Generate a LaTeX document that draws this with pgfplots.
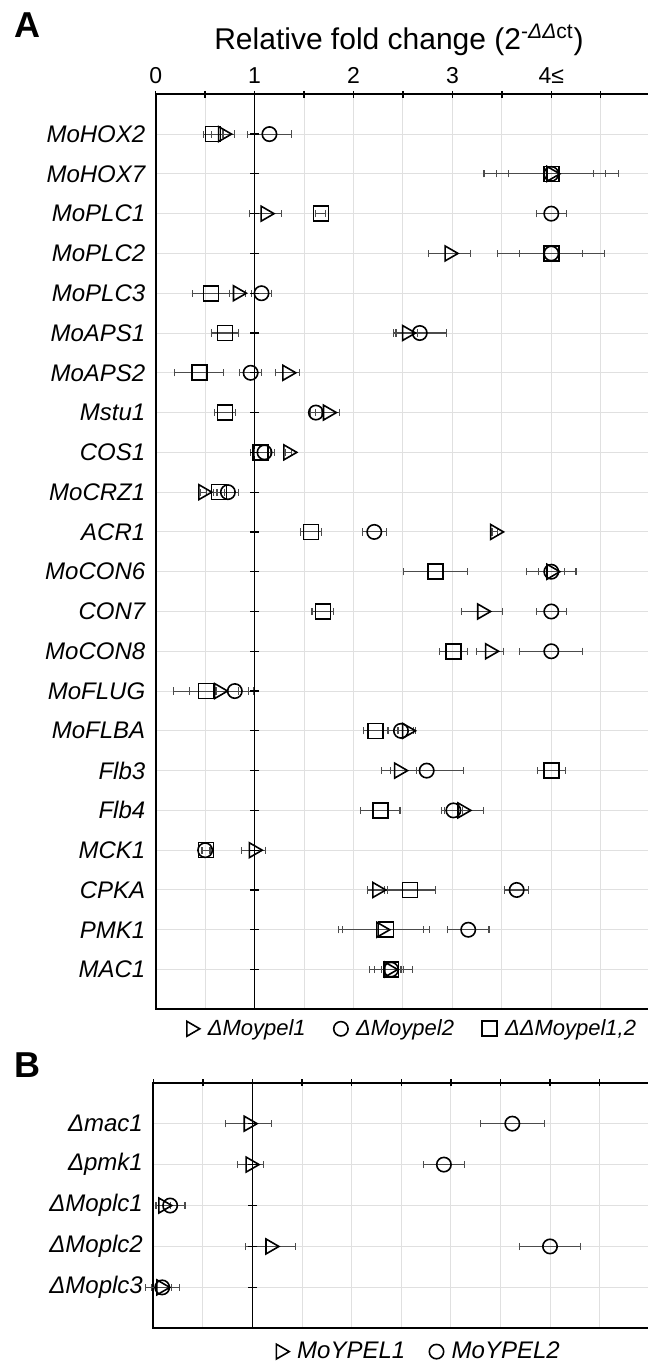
\documentclass[border=0pt]{standalone}
\usepackage{fontspec}
\setmainfont{Liberation Sans}
\usepackage{pgfplots}
\pgfplotsset{compat=1.18}
\usepackage{pgfplotstable}

\pgfplotstableread{
y x e
1 0.68 0.12
2 4.00 0.43
3 1.11 0.16
4 2.97 0.21
5 0.83 0.08
6 2.54 0.11
7 1.33 0.12
8 1.74 0.12
9 1.34 0.03
10 0.48 0.03
11 3.43 0.03
12 4.00 0.13
13 3.30 0.21
14 3.38 0.14
15 0.64 0.30
16 2.54 0.09
17 2.46 0.18
18 3.10 0.21
19 0.99 0.12
20 2.24 0.10
21 2.28 0.43
22 2.36 0.15
}\triA
\pgfplotstableread{
y x e
1 1.15 0.22
2 4.00 0.55
3 4.00 0.15
4 4.00 0.32
5 1.07 0.10
6 2.67 0.27
7 0.96 0.11
8 1.62 0.06
9 1.10 0.10
10 0.73 0.11
11 2.21 0.12
12 4.00 0.25
13 4.00 0.15
14 4.00 0.32
15 0.80 0.19
16 2.48 0.13
17 2.74 0.37
18 3.01 0.09
19 0.50 0.04
20 3.65 0.12
21 3.16 0.21
22 2.38 0.10
}\circA
\pgfplotstableread{
y x e
1 0.58 0.10
2 4.00 0.68
3 1.67 0.05
4 4.00 0.54
5 0.56 0.19
6 0.70 0.14
7 0.44 0.25
8 0.70 0.11
9 1.06 0.10
10 0.64 0.06
11 1.57 0.11
12 2.83 0.32
13 1.69 0.11
14 3.01 0.14
15 0.51 0.33
16 2.22 0.12
17 4.00 0.14
18 2.27 0.20
19 0.51 0.04
20 2.57 0.26
21 2.33 0.44
22 2.38 0.22
}\sqA
\pgfplotstableread{
y x e
1 0.96 0.23
2 0.98 0.13
3 0.10 0.07
4 1.18 0.25
5 0.08 0.10
}\triB
\pgfplotstableread{
y x e
1 3.62 0.32
2 2.93 0.21
3 0.17 0.15
4 4.00 0.31
5 0.09 0.17
}\circB

\pgfplotsset{
  panel/.style={
    scale only axis, clip=false, y dir=reverse,
    xmin=0,
    xtick={0,0.5,...,4.5},
    xtick pos=right, xticklabel pos=right,
    tick align=center, major tick length=3.4pt,
    x tick style={line width=0.7pt, black},
    ytick style={draw=none},
    axis line style={line width=0.85pt, black},
    xmajorgrids, ymajorgrids,
    grid style={line width=0.5pt, black!12},
    xticklabel style={font=\fontsize{11.5}{13}\selectfont},
    yticklabel style={font=\fontsize{12}{14}\selectfont\itshape},
    legend style={draw=none, fill=none, font=\fontsize{12}{14}\selectfont\itshape, inner sep=0pt,
      /tikz/every odd column/.append style={column sep=2pt}},
    legend image code/.code={\draw[mark repeat=2,mark phase=2,##1] plot coordinates {(0cm,0cm)(0.15cm,0cm)(0.30cm,0cm)};},
  },
  ebar/.style={error bars/.cd, x dir=both, x explicit,
    error bar style={line width=0.55pt, black!70},
    error mark options={rotate=90, mark size=1.8pt, line width=0.55pt, black!70}},
  tri/.style={only marks, black, mark=triangle, mark size=4.3pt, mark options={rotate=-90, line width=0.8pt, fill=none}},
  circ/.style={only marks, black, mark=o, mark size=3.6pt, mark options={line width=0.8pt}},
  sq/.style={only marks, black, mark=square, mark size=3.75pt, mark options={line width=0.8pt}},
}

\begin{document}
\begin{tikzpicture}
\node[anchor=base west, inner sep=0pt, font=\fontsize{18}{20}\selectfont\bfseries] at (7pt,-18.65pt) {A};
\node[anchor=base, inner sep=0pt, font=\fontsize{15}{18}\selectfont] at (199.5pt,-24.5pt) {Relative fold change (2\textsuperscript{-\textit{ΔΔ}ct})};
\begin{axis}[panel,
  at={(77.85pt,-47.15pt)}, anchor=north west,
  width=246.75pt, height=457.5pt,
  xmax=4.99, ymin=0, ymax=23,
  xticklabels={0,,1,,2,,3,,4≤,},
  ytick={1,...,22},
  yticklabels={MoHOX2,MoHOX7,MoPLC1,MoPLC2,MoPLC3,MoAPS1,MoAPS2,Mstu1,COS1,MoCRZ1,ACR1,MoCON6,CON7,MoCON8,MoFLUG,MoFLBA,Flb3,Flb4,MCK1,CPKA,PMK1,MAC1},
  legend columns=3,
  legend style={at={(0.5,0)}, anchor=north, xshift=5.5pt, yshift=-2.8pt,
    font=\fontsize{11}{13}\selectfont\itshape,
    /tikz/every even column/.append style={column sep=12pt}},
]
\addplot[black, line width=0.8pt, forget plot] coordinates {(1,0) (1,23)};
\addplot[only marks, mark=-, mark size=2.3pt, line width=0.6pt, black, forget plot] table[x expr=1, y=y] {\triA};
\addplot[tri, ebar] table[x=x, y=y, x error=e] {\triA};
\addlegendentry{ΔMoypel1}
\addplot[circ, ebar] table[x=x, y=y, x error=e] {\circA};
\addlegendentry{ΔMoypel2}
\addplot[sq, ebar] table[x=x, y=y, x error=e] {\sqA};
\addlegendentry{ΔΔMoypel1,2}
\end{axis}
\node[anchor=base west, inner sep=0pt, font=\fontsize{18}{20}\selectfont\bfseries] at (7pt,-538.65pt) {B};
\begin{axis}[panel,
  at={(76.65pt,-541.35pt)}, anchor=north west,
  width=247.95pt, height=122.8pt,
  xmax=5.0, ymin=0, ymax=6,
  xticklabels={},
  ytick={1,...,5},
  yticklabels={Δmac1,Δpmk1,ΔMoplc1,ΔMoplc2,ΔMoplc3},
  legend columns=2,
  legend style={at={(0.5,0)}, anchor=north, xshift=9.4pt, yshift=-4.5pt,
    /tikz/every even column/.append style={column sep=10pt}},
]
\addplot[black, line width=0.8pt, forget plot] coordinates {(1,0) (1,6)};
\addplot[only marks, mark=-, mark size=2.3pt, line width=0.6pt, black, forget plot] table[x expr=1, y=y] {\triB};
\addplot[tri, ebar] table[x=x, y=y, x error=e] {\triB};
\addlegendentry{MoYPEL1}
\addplot[circ, ebar] table[x=x, y=y, x error=e] {\circB};
\addlegendentry{MoYPEL2}
\end{axis}
\pgfresetboundingbox
\path[use as bounding box] (0pt,0pt) rectangle (324pt,-680.5pt);
\end{tikzpicture}
\end{document}
